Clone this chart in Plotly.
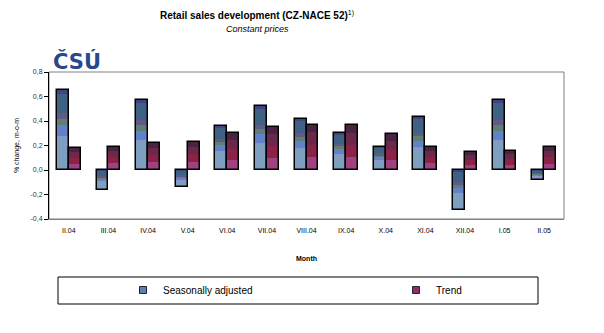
import plotly.graph_objects as go

months = ["II.04", "III.04", "IV.04", "V.04", "VI.04", "VII.04", "VIII.04",
          "IX.04", "X.04", "XI.04", "XII.04", "I.05", "II.05"]
seasonally_adjusted = [0.65, -0.16, 0.57, -0.14, 0.36, 0.52, 0.42,
                       0.30, 0.19, 0.43, -0.33, 0.57, -0.085]
trend = [0.18, 0.19, 0.22, 0.23, 0.30, 0.355, 0.37,
         0.365, 0.29, 0.19, 0.145, 0.155, 0.185]
y_ticks = [-0.4, -0.2, 0.0, 0.2, 0.4, 0.6, 0.8]
y_ticktext = ["-0,4", "-0,2", "0,0", "0,2", "0,4", "0,6", "0,8"]

# gradient imitation bands: (from, to, colour) as fraction of bar height from the bottom
sa_bands = [(0.00, 0.41, "#7f9fc0"), (0.41, 0.43, "#8c94c8"), (0.43, 0.56, "#6282c8"),
            (0.56, 0.64, "#5e8074"), (0.64, 0.71, "#625a82"), (0.71, 0.96, "#3f6284"),
            (0.96, 1.00, "#3e4486")]
tr_bands = [(0.00, 0.28, "#a04280"), (0.28, 0.56, "#8c2248"), (0.56, 0.83, "#6c2848"),
            (0.83, 1.00, "#4a2242")]

W, H = 604, 333
L, R, T, B = 49, 40, 72, 114
PW, PH = W - L - R, H - T - B
FONT = "Liberation Sans, Arial, sans-serif"


def px(xp):
    return (xp - L) / PW


def py(yp):
    return (H - B - yp) / PH


fig = go.Figure()


def add_series(values, bands, offset, name, legend_color, legend_id):
    lo = [min(0, v) for v in values]
    span = [abs(v) for v in values]
    for f0, f1, col in bands:
        fig.add_trace(go.Bar(
            x=months, y=[s * (f1 - f0) for s in span],
            base=[l + s * f0 for l, s in zip(lo, span)],
            width=0.3, offset=offset, marker=dict(color=col, line=dict(width=0)),
            showlegend=False, hoverinfo="skip"))
    fig.add_trace(go.Bar(
        x=months, y=values, width=0.3, offset=offset, name=name,
        marker=dict(color="rgba(0,0,0,0)", line=dict(color="black", width=1.5)),
        showlegend=False))
    fig.add_trace(go.Scatter(
        x=[months[0]], y=[None], name=name, mode="markers", legend=legend_id,
        marker=dict(symbol="square", size=7, color=legend_color,
                    line=dict(color="#202040", width=1)),
        showlegend=True))


add_series(seasonally_adjusted, sa_bands, -0.3, "Seasonally adjusted", "#5f7fb0", "legend")
add_series(trend, tr_bands, 0.0, "Trend", "#903060", "legend2")

legend_common = dict(orientation="h", xanchor="left", yanchor="middle", y=py(290),
                     bgcolor="rgba(0,0,0,0)", borderwidth=0,
                     font=dict(size=10, family=FONT), itemwidth=30)

fig.update_layout(
    width=W, height=H, margin=dict(l=L, r=R, t=T, b=B, autoexpand=False),
    paper_bgcolor="white", plot_bgcolor="white",
    barmode="overlay", bargap=0,
    font=dict(family=FONT, color="black", size=7),
    xaxis=dict(type="category", categoryorder="array", categoryarray=months,
               range=[-0.5, 12.5], showgrid=False, showline=True,
               linecolor="#808080", linewidth=1, ticks="", ticklabelstandoff=5,
               tickfont=dict(size=7, family=FONT),
               title=dict(text="<b>Month</b>", font=dict(size=7), standoff=22)),
    xaxis2=dict(overlaying="x", anchor="free", position=1 / 3, range=[-0.5, 12.5],
                tickvals=[i - 0.5 for i in range(14)], showticklabels=False,
                ticks="outside", ticklen=3, tickcolor="black", showline=True,
                linecolor="black", linewidth=1.2, showgrid=False, zeroline=False),
    yaxis=dict(range=[-0.4, 0.8], tickvals=y_ticks, ticktext=y_ticktext,
               showgrid=False, zeroline=False, showline=True, linecolor="black",
               linewidth=1, ticks="outside", ticklen=4, tickcolor="black",
               tickfont=dict(size=7, family=FONT, color="#333333"),
               title=dict(text="% change, m-o-m", font=dict(size=7), standoff=10)),
    yaxis2=dict(overlaying="y", range=[-0.4, 0.8], tickvals=[-0.2, 0.2, 0.4, 0.6],
                showticklabels=False, ticks="", showgrid=True, gridcolor="black",
                gridwidth=1, griddash="3px,3px", zeroline=False, showline=False),
    legend=dict(x=px(123), **legend_common),
    legend2=dict(x=px(396), **legend_common),
    showlegend=True,
)

# plot-area frame (grey) and legend frame
fig.add_shape(type="rect", xref="paper", yref="paper", x0=0, x1=1, y0=0, y1=1,
              line=dict(color="#808080", width=1), layer="below")
fig.add_shape(type="rect", xref="paper", yref="paper",
              x0=px(58), x1=px(538), y0=py(304), y1=py(277),
              line=dict(color="black", width=1), fillcolor="rgba(0,0,0,0)")

# titles
fig.add_annotation(text="<b>Retail sales development (CZ-NACE 52)</b><sup>1)</sup>",
                   xref="paper", yref="paper", x=px(257), y=py(15),
                   xanchor="center", yanchor="middle",
                   showarrow=False, font=dict(size=10, family=FONT))
fig.add_annotation(text="<i>Constant prices</i>",
                   xref="paper", yref="paper", x=px(257), y=py(29),
                   xanchor="center", yanchor="middle",
                   showarrow=False, font=dict(size=9, family=FONT))
# logo
fig.add_annotation(text="<b>ČSÚ</b>", xref="paper", yref="paper",
                   x=px(51), y=py(62), xanchor="left", yanchor="middle",
                   showarrow=False,
                   font=dict(size=21, family="DejaVu Sans, sans-serif", color="#27488c"))

fig.write_html("out.html", config={"displayModeBar": False},
               post_script="document.body.style.margin='0';document.body.style.padding='0';")
